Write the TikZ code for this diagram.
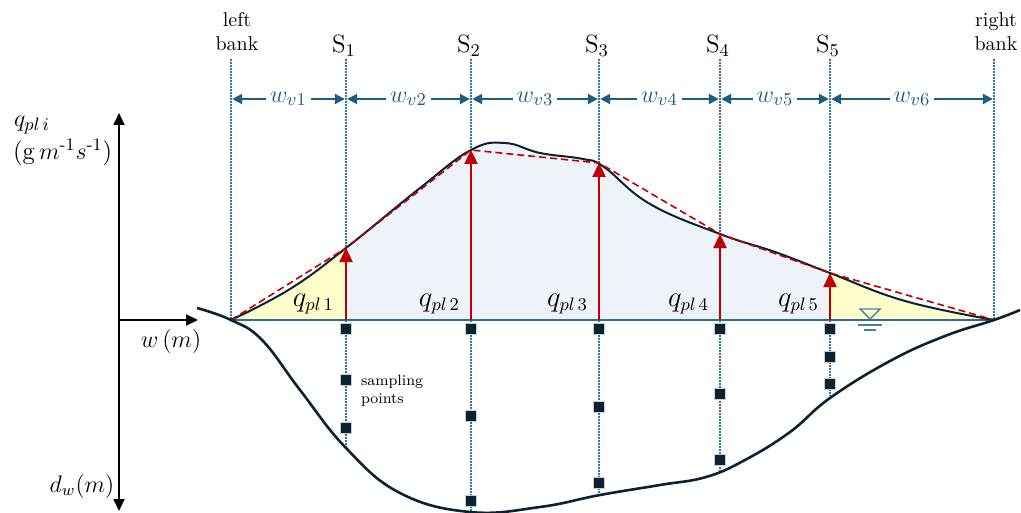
\documentclass[tikz,border=0pt]{standalone}
\usepackage{amsmath}
\usetikzlibrary{arrows.meta}
\definecolor{bednavy}{HTML}{0B2233}
\definecolor{dotblue}{HTML}{2E75A6}
\definecolor{dimblue}{HTML}{1B5E7E}
\definecolor{qred}{HTML}{C00000}
\definecolor{qblue}{HTML}{EEF3FA}
\definecolor{qyellow}{HTML}{FFFFCC}
\definecolor{waterblue}{HTML}{2F6E93}
\definecolor{symblue}{HTML}{4A7FA5}
\begin{document}
\begin{tikzpicture}[x=0.5pt, y=-0.5pt,
  every node/.style={font=\fontsize{12}{14}\selectfont},
  vline/.style={dotblue, line width=0.8pt, dash pattern=on 0.8pt off 0.7pt},
  dimarrow/.style={dimblue, line width=1pt, {Triangle[length=5pt,width=5pt]}-{Triangle[length=5pt,width=5pt]}, shorten <=0.6pt, shorten >=0.6pt},
  wlabel/.style={fill=white, inner sep=2pt, font=\fontsize{12.5}{14}\selectfont},
  qarrow/.style={qred, line width=1.2pt, -{Triangle[length=7pt,width=6.5pt]}},
  qlabel/.style={anchor=base east, font=\fontsize{13.5}{15}\selectfont},
  slabel/.style={font=\fontsize{12.5}{14}\selectfont},
  banklabel/.style={font=\fontsize{10}{12}\selectfont, align=center},
  sample/.style={draw=gray!40, fill=bednavy, line width=0.4pt, minimum size=5.5pt, inner sep=0pt},
  axis/.style={black, line width=1pt, -{Triangle[length=6pt,width=5.5pt]}}]
  \useasboundingbox (0,0) rectangle (1021,513);

  % profile of q_pl over the width
  \def\qprofile{plot[smooth, tension=0.7] coordinates {(231,320) (290,289) (346,248) (420,188) (471,150) (505,143) (540,153) (583,159) (604,167) (650,204) (720,234) (775,252) (830,273) (905,301) (994,320)}}

  % fills under the profile
  \fill[qblue] \qprofile -- cycle;
  \begin{scope}
    \clip (231,100) rectangle (346,320) (830,100) rectangle (994,320);
    \fill[qyellow] \qprofile -- cycle;
  \end{scope}

  % verticals
  \coordinate (L) at (231,320);
  \coordinate (R) at (994,320);
  \coordinate (Ltop) at (231,59);
  \coordinate (Rtop) at (994,59);
  \coordinate (S1top) at (346,59);
  \coordinate (S2top) at (471,59);
  \coordinate (S3top) at (599,59);
  \coordinate (S4top) at (720,59);
  \coordinate (S5top) at (830,59);
  \coordinate (S1bot) at (346,447);
  \coordinate (S2bot) at (471,511);
  \coordinate (S3bot) at (599,495);
  \coordinate (S4bot) at (720,472);
  \coordinate (S5bot) at (830,396);
  \draw[vline] (Ltop) -- (L);
  \draw[vline] (Rtop) -- (R);
  \draw[vline] (S1top) -- (S1bot);
  \draw[vline] (S2top) -- (S2bot);
  \draw[vline] (S3top) -- (S3bot);
  \draw[vline] (S4top) -- (S4bot);
  \draw[vline] (S5top) -- (S5bot);

  % water surface
  \draw[waterblue, line width=0.8pt] (L) -- (R);

  % q_pl arrows
  \coordinate (b1) at (346,320); \coordinate (t1) at (346,248);
  \coordinate (b2) at (471,320); \coordinate (t2) at (471,150);
  \coordinate (b3) at (599,320); \coordinate (t3) at (599,163);
  \coordinate (b4) at (720,320); \coordinate (t4) at (720,234);
  \coordinate (b5) at (830,320); \coordinate (t5) at (830,273);
  \draw[qarrow] (b1) -- (t1);
  \draw[qarrow] (b2) -- (t2);
  \draw[qarrow] (b3) -- (t3);
  \draw[qarrow] (b4) -- (t4);
  \draw[qarrow] (b5) -- (t5);

  % profile and its linear approximation
  \draw[bednavy, line width=1pt] \qprofile;
  \draw[qred, line width=0.8pt, dash pattern=on 3.5pt off 2pt] (L) -- (t1) -- (t2) -- (t3) -- (t4) -- (t5) -- (R);

  % bed
  \draw[bednavy, line width=1.3pt] plot[smooth, tension=0.7] coordinates {(197,308) (231,320) (262,340) (300,390) (346,448) (400,493) (470,512) (540,507) (600,495) (660,485) (706,477) (745,460) (790,432) (830,398) (890,361) (945,336) (994,320) (1020,310)};

  % water level symbol
  \draw[symblue, line width=0.7pt] (860,309) -- (880,309) -- (870,319) -- cycle;
  \draw[symblue, line width=0.8pt] (858,325) -- (882,325);
  \draw[symblue, line width=0.8pt] (864,330) -- (876,330);

  % sampling points
  \foreach \x/\ys in {346/{329,380,428}, 471/{329,416,501}, 599/{329,407,483}, 720/{329,394,460}, 830/{329,357,384}}
    \foreach \y in \ys
      \node[sample] (p\x-\y) at (\x,\y) {};
  \node[font=\fontsize{7.5}{9}\selectfont, anchor=west, align=left] (samp) at (354,391) {sampling\\points};

  % widths
  \coordinate (d0) at (231,99);
  \coordinate (d1) at (346,99);
  \coordinate (d2) at (471,99);
  \coordinate (d3) at (599,99);
  \coordinate (d4) at (720,99);
  \coordinate (d5) at (830,99);
  \coordinate (d6) at (994,99);
  \draw[dimarrow] (d0) -- node[wlabel] (wv1) {$w_{v1}$} (d1);
  \draw[dimarrow] (d1) -- node[wlabel] (wv2) {$w_{v2}$} (d2);
  \draw[dimarrow] (d2) -- node[wlabel] (wv3) {$w_{v3}$} (d3);
  \draw[dimarrow] (d3) -- node[wlabel] (wv4) {$w_{v4}$} (d4);
  \draw[dimarrow] (d4) -- node[wlabel] (wv5) {$w_{v5}$} (d5);
  \draw[dimarrow] (d5) -- node[wlabel] (wv6) {$w_{v6}$} (d6);

  % verticals labels
  \node[banklabel] (lbank) at (237,32) {left\\bank};
  \node[banklabel] (rbank) at (996,32) {right\\bank};
  \node[slabel] (s1) at (344,46) {S$_1$};
  \node[slabel] (s2) at (469,46) {S$_2$};
  \node[slabel] (s3) at (597,46) {S$_3$};
  \node[slabel] (s4) at (718,46) {S$_4$};
  \node[slabel] (s5) at (828,46) {S$_5$};

  % q labels
  \node[qlabel] (q1) at (341,306) {$q_{pl\,1}$};
  \node[qlabel] (q2) at (467,306) {$q_{pl\,2}$};
  \node[qlabel] (q3) at (595,306) {$q_{pl\,3}$};
  \node[qlabel] (q4) at (716,306) {$q_{pl\,4}$};
  \node[qlabel] (q5) at (826,306) {$q_{pl\,5}$};

  % axes
  \coordinate (O) at (119,320);
  \coordinate (Atop) at (119,113);
  \coordinate (Abot) at (119,511);
  \coordinate (Aright) at (198,320);
  \draw[axis] (O) -- (Atop);
  \draw[axis] (O) -- (Abot);
  \draw[axis] (O) -- (Aright);
  \node[anchor=west, font=\fontsize{13}{15}\selectfont] (qi) at (7,125) {$q_{pl\,i}$};
  \node[anchor=west, font=\fontsize{12.5}{15}\selectfont] (units) at (6,152) {(g\,$m^{\text{-1}}s^{\text{-1}}$)};
  \node (wm) at (171,341) {$w\,(m)$};
  \node (dw) at (82,486) {$d_w(m)$};
\end{tikzpicture}
\end{document}
